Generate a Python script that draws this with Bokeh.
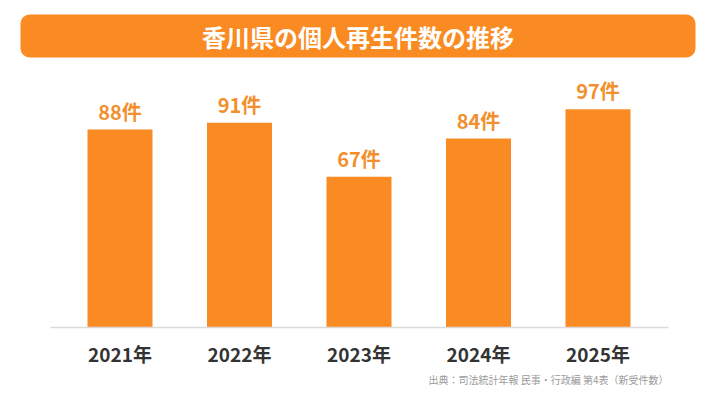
from bokeh.plotting import figure
from bokeh.models import Range1d, ColumnDataSource
from bokeh.core.properties import value
from bokeh.embed import file_html
from bokeh.resources import INLINE

# data
years = ["2021年", "2022年", "2023年", "2024年", "2025年"]
counts = [88, 91, 67, 84, 97]
title_text = "香川県の個人再生件数の推移"
source_text = "出典：司法統計年報 民事・行政編 第4表（新受件数）"

FONT = "Noto Sans CJK JP"
ORANGE = "#F98B22"
LABEL_ORANGE = "#F2902E"

W, H = 700, 387
BASE = 327          # pixel row of the baseline
X0, STEP = 119.5, 119.5   # pixel centre of first bar and spacing
PX_PER = 2.25       # pixels per case


# helpers to turn pixels into data units (decoration only)
def dx(px):
    return (px - X0) / STEP


def dy(py):
    return (BASE - py) / PX_PER


xs = list(range(len(years)))
src = ColumnDataSource(data=dict(
    x=xs,
    count=counts,
    label=[f"{c}件" for c in counts],
    year=years,
    zero=[0] * len(years),
))

p = figure(width=W, height=H,
           x_range=Range1d(dx(0), dx(W)), y_range=Range1d(dy(H), dy(0)),
           x_axis_type=None, y_axis_type=None,
           output_backend="svg", toolbar_location=None,
           min_border=0)
p.outline_line_color = None
p.grid.visible = False
p.background_fill_color = "white"
p.border_fill_color = "white"

# title banner
p.quad(left=dx(20), right=dx(695), top=dy(14), bottom=dy(57),
       fill_color=ORANGE, line_color=None, border_radius=9)
p.text(x=[dx(357.5)], y=[dy(36)], text=[title_text],
       text_align="center", text_baseline="middle",
       text_font=value(FONT), text_font_style="bold",
       text_font_size="24px", text_color="white")

# bars
p.vbar(x="x", top="count", width=65 / STEP, source=src,
       fill_color=ORANGE, line_color=None)
p.text(x="x", y="count", text="label", source=src,
       text_align="center", text_baseline="bottom", y_offset=-4,
       text_font=value(FONT), text_font_style="bold",
       text_font_size="20px", text_color=LABEL_ORANGE)

# baseline
p.line(x=[dx(50), dx(668)], y=[0, 0], line_color="#DADADA", line_width=1.5)

# year labels under the bars
p.text(x="x", y="zero", text="year", source=src,
       text_align="center", text_baseline="middle", y_offset=26,
       text_font=value(FONT), text_font_style="bold",
       text_font_size="19px", text_color="#333333")

# source note
p.text(x=[dx(668)], y=[dy(379)], text=[source_text],
       text_align="right", text_baseline="middle",
       text_font=value(FONT), text_font_size="10px",
       text_color="#9A9A9A")

open("out.html", "w").write(file_html(p, INLINE))
